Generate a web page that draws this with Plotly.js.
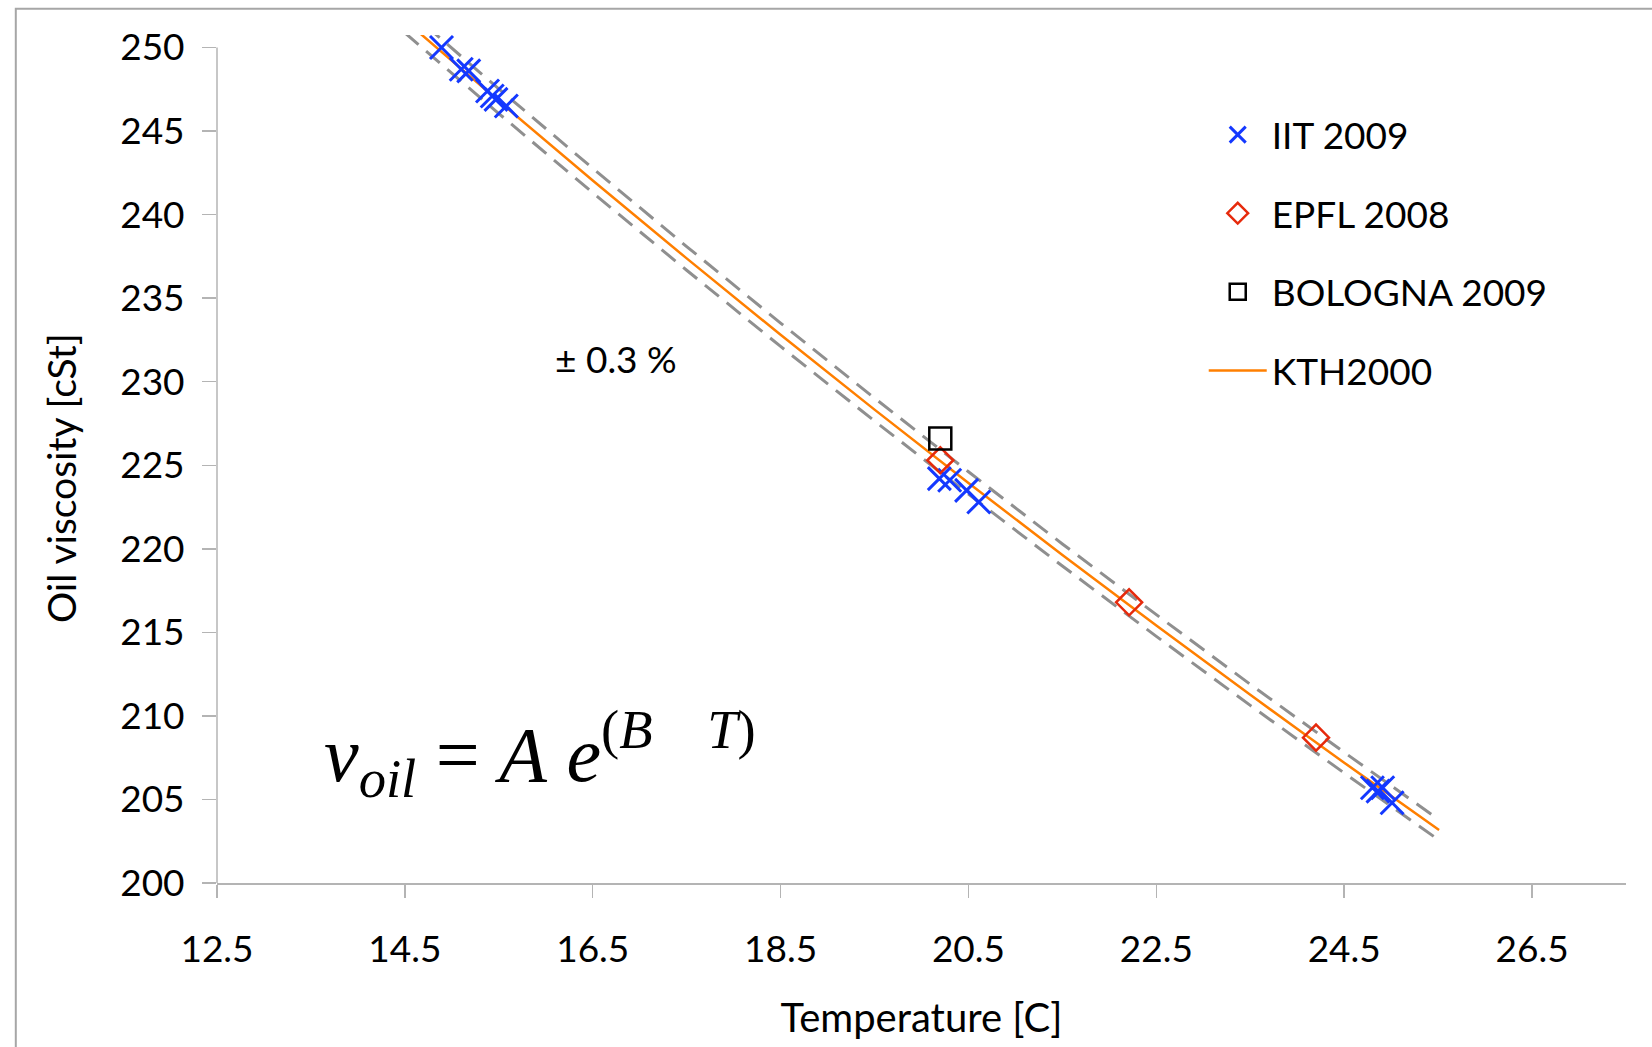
<!DOCTYPE html>
<html>
<head>
<meta charset="utf-8">
<script src="https://cdn.plot.ly/plotly-3.0.1.min.js"></script>
<style>html,body{margin:0;padding:0;background:#fff;} #chart{width:1652px;height:1047px;}</style>
</head>
<body>
<div id="chart"></div>
<script>
// IIT 2009
const iitT = [14.89, 15.10, 15.18, 15.38, 15.43, 15.47, 15.58, 20.19, 20.30, 20.48, 20.61, 24.80, 24.86, 24.91, 25.01];
const iitNu = [250.0, 248.7, 248.6, 247.4, 247.1, 246.9, 246.5, 224.2, 224.1, 223.5, 222.8, 205.7, 205.5, 205.7, 204.8];
// EPFL 2008
const epflT = [20.20, 22.21, 24.20];
const epflNu = [225.3, 216.8, 208.7];
// BOLOGNA 2009
const bolT = [20.20];
const bolNu = [226.6];
// KTH2000 fit curve and +/-0.3 % band
const kthT = [14.5, 15.5, 16.5, 17.5, 18.5, 19.5, 20.5, 21.5, 22.5, 23.5, 24.5, 25.51];
const kthNu = [251.63, 246.79, 242.04, 237.38, 232.81, 228.33, 223.94, 219.63, 215.41, 211.26, 207.20, 203.17];
const bandUp = [252.39, 247.53, 242.77, 238.09, 233.51, 229.02, 224.61, 220.29, 216.06, 211.89, 207.82, 203.78];
const bandLo = [250.88, 246.05, 241.31, 236.67, 232.11, 227.65, 223.27, 218.97, 214.76, 210.63, 206.58, 202.56];
const xTicks = [12.5, 14.5, 16.5, 18.5, 20.5, 22.5, 24.5, 26.5];
const yTicks = [200, 205, 210, 215, 220, 225, 230, 235, 240, 245, 250];

const FONT = 'Lato, "Open Sans", sans-serif';
const dashStyle = {color: '#8f8f8f', width: 3, dash: '18px,10px'};

const traces = [
  {x: kthT, y: bandUp, mode: 'lines', line: dashStyle, showlegend: false, hoverinfo: 'skip'},
  {x: kthT, y: bandLo, mode: 'lines', line: dashStyle, showlegend: false, hoverinfo: 'skip'},
  {x: kthT, y: kthNu, mode: 'lines', name: 'KTH2000', legendgroup: 'd', legendrank: 4,
   line: {color: '#ff7f00', width: 2.5, shape: 'spline'}},
  {x: iitT, y: iitNu, mode: 'markers', name: 'IIT 2009', legendgroup: 'a', legendrank: 1,
   marker: {symbol: 'x-thin', size: 23, color: '#1438ff', line: {color: '#1438ff', width: 3}}},
  {x: epflT, y: epflNu, mode: 'markers', name: 'EPFL 2008', legendgroup: 'b', legendrank: 2,
   marker: {symbol: 'diamond-open', size: 20, color: '#e62a0c', line: {color: '#e62a0c', width: 2.5}}},
  {x: bolT, y: bolNu, mode: 'markers', name: 'BOLOGNA 2009', legendgroup: 'c', legendrank: 3,
   marker: {symbol: 'square-open', size: 22, color: '#000000', line: {color: '#000000', width: 2.5}}}
];

const layout = {
  width: 1652, height: 1047,
  margin: {l: 217, r: 26, t: 35, b: 164},
  paper_bgcolor: '#ffffff', plot_bgcolor: '#ffffff',
  font: {family: FONT, size: 36, color: '#000000'},
  showlegend: true,
  legend: {x: 0.7003, y: 0.9186, xanchor: 'left', yanchor: 'top', bgcolor: 'rgba(0,0,0,0)',
           font: {family: FONT, size: 37, color: '#000'}, tracegroupgap: 27.5, traceorder: 'grouped',
           itemwidth: 58},
  xaxis: {range: [12.5, 27.5], tickvals: xTicks, ticktext: xTicks.map(v => v.toFixed(1)),
          showgrid: false, zeroline: false, showline: true, linecolor: '#b4b4b4', linewidth: 1.5,
          ticks: 'outside', ticklen: 13, tickcolor: '#b4b4b4', tickwidth: 1.5,
          ticklabelstandoff: 20, tickfont: {family: FONT, size: 37, color: '#000'},
          title: {text: 'Temperature [C]', font: {family: FONT, size: 40, color: '#000'}, standoff: 35}},
  yaxis: {range: [200, 250.75], tickvals: yTicks, ticktext: yTicks.map(String),
          showgrid: false, zeroline: false, showline: false,
          ticks: 'outside', ticklen: 14, tickcolor: '#b4b4b4', tickwidth: 1.5,
          ticklabelstandoff: 10, tickfont: {family: FONT, size: 37, color: '#000'}},
  shapes: [
    {type: 'line', xref: 'paper', yref: 'y', x0: 0, x1: 0, y0: 200, y1: 250,
     line: {color: '#b4b4b4', width: 1.5}},
    {type: 'rect', xref: 'paper', yref: 'paper', x0: -0.1428, x1: 1.1, y0: -0.3, y1: 1.031,
     line: {color: '#a6a6a6', width: 2}, layer: 'below'}
  ],
  annotations: [
    {xref: 'paper', yref: 'paper', x: -0.1107, y: 0.4776, xanchor: 'center', yanchor: 'middle',
     textangle: -90, text: 'Oil viscosity [cSt]', showarrow: false,
     font: {family: FONT, size: 39, color: '#000'}},
    {xref: 'paper', yref: 'paper', x: 0.283, y: 0.618, xanchor: 'center', yanchor: 'middle',
     text: '± 0.3 %', showarrow: false,
     font: {family: FONT, size: 37, color: '#000'}},
    {xref: 'paper', yref: 'paper', x: 0.229, y: 0.152, xanchor: 'center', yanchor: 'middle', showarrow: false,
     text: '<i>ν</i><sub><i>oil</i></sub>\u00a0=\u00a0<i>A</i>\u00a0<i>e</i><sup>(<i>B</i>\u00a0\u00a0\u00a0\u00a0<i>T</i>)</sup>',
     font: {family: '"Liberation Serif", "DejaVu Serif", serif', size: 78, color: '#000'}}
  ]
};

Plotly.newPlot('chart', traces, layout, {staticPlot: true, displayModeBar: false});
</script>
</body>
</html>
